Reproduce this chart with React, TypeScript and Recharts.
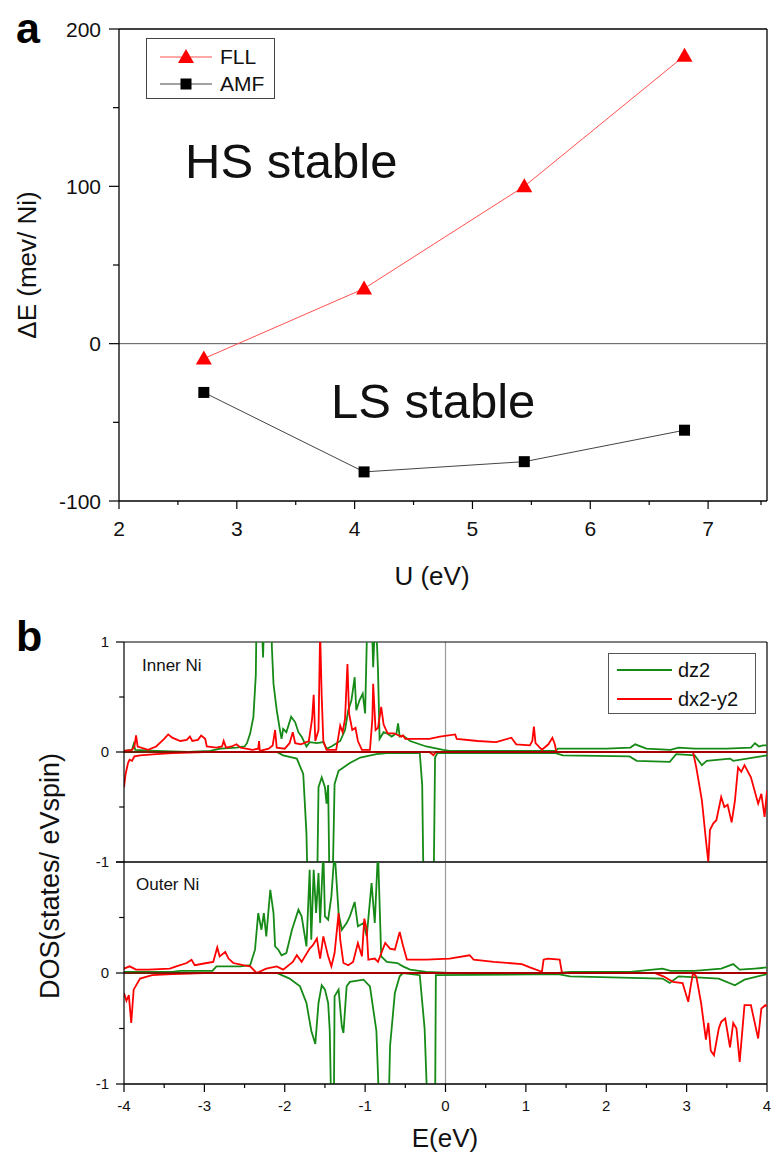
import React from "react";
import { LineChart, Line, XAxis, YAxis, ReferenceLine } from "recharts";

const FONT = '"Liberation Sans", Arial, Helvetica, sans-serif';
const GREEN = "#168a16";
const RED = "#ff0000";

// ---- panel a: energy difference vs U ----
const uValues = [2.72, 4.08, 5.44, 6.8];
const fllValues = [-9.5, 35, 100, 183];
const amfValues = [-31, -81.5, -75, -55];
const uTicks = [2, 2.5, 3, 3.5, 4, 4.5, 5, 5.5, 6, 6.5, 7, 7.5];
const dETicks = [-100, -50, 0, 50, 100, 150, 200];

// ---- panel b: DOS, [E (eV), states/eV spin] ----
const eTicks = [-4, -3.5, -3, -2.5, -2, -1.5, -1, -0.5, 0, 0.5, 1, 1.5, 2, 2.5, 3, 3.5, 4];
const dosTicks = [-1, -0.5, 0, 0.5, 1];

const innerDz2Up = [
  [-4, 0.01], [-3.9, 0.02], [-3.88, 0.07], [-3.86, 0.02], [-3.6, 0.01], [-3.2, 0], [-2.93, 0.01],
  [-2.8, 0.03], [-2.6, 0.04], [-2.5, 0.05], [-2.47, 0.08], [-2.43, 0.17], [-2.39, 0.32], [-2.36, 0.7],
  [-2.35, 1.3], [-2.3, 1.5], [-2.27, 0.86], [-2.25, 1.4], [-2.17, 1.4], [-2.16, 0.95], [-2.14, 0.62],
  [-2.1, 0.38], [-2.06, 0.2], [-2.04, 0.12], [-2.02, 0.21], [-1.98, 0.18], [-1.92, 0.32], [-1.87, 0.27],
  [-1.83, 0.18], [-1.79, 0.14], [-1.73, 0.05], [-1.69, 0.09], [-1.6, 0.08], [-1.52, 0.09], [-1.48, 0.03],
  [-1.42, 0.05], [-1.31, 0.1], [-1.25, 0.2], [-1.21, 0.38], [-1.17, 0.47], [-1.13, 0.68], [-1.11, 0.38],
  [-1.07, 0.47], [-1.03, 0.53], [-1.0, 0.35], [-0.97, 1.3], [-0.92, 1.3], [-0.9, 0.77], [-0.87, 1.3],
  [-0.84, 0.75], [-0.82, 0.12], [-0.77, 0.18], [-0.73, 0.17], [-0.67, 0.14], [-0.61, 0.17], [-0.59, 0.26],
  [-0.57, 0.14], [-0.53, 0.15], [-0.44, 0.1], [-0.24, 0.05], [-0.03, 0.02], [0.05, 0.01], [1.37, 0.01],
  [1.4, 0.03], [2.0, 0.03], [2.3, 0.04], [2.36, 0.07], [2.5, 0.03], [2.8, 0.02], [2.9, 0.04], [3.1, 0.03],
  [3.5, 0.03], [3.8, 0.04], [3.85, 0.08], [3.9, 0.05], [3.95, 0.06], [4, 0.06],
];
const innerDz2Dn = [
  [-4, 0], [-2.1, 0], [-2.02, -0.03], [-1.85, -0.06], [-1.77, -0.2], [-1.73, -0.74], [-1.71, -1.4],
  [-1.6, -1.4], [-1.58, -0.32], [-1.54, -0.23], [-1.5, -0.32], [-1.48, -0.47], [-1.46, -0.3], [-1.44, -1.4],
  [-1.41, -1.4], [-1.38, -0.29], [-1.33, -0.17], [-1.27, -0.14], [-1.19, -0.1], [-1.06, -0.05],
  [-0.86, -0.02], [-0.73, -0.01], [-0.32, -0.01], [-0.29, -0.3], [-0.27, -1.4], [-0.15, -1.4],
  [-0.13, -0.05], [-0.1, -0.01], [1.37, -0.01], [1.46, -0.03], [2.29, -0.04], [2.38, -0.08], [2.79, -0.09],
  [2.87, -0.02], [3.1, -0.03], [3.19, -0.12], [3.25, -0.08], [3.54, -0.06], [3.58, -0.08], [4, -0.03],
];
const innerDx2Up = [
  [-4, 0.01], [-3.9, 0.02], [-3.87, 0.05], [-3.85, 0.15], [-3.83, 0.05], [-3.7, 0.02], [-3.6, 0.05],
  [-3.5, 0.12], [-3.45, 0.16], [-3.4, 0.13], [-3.3, 0.1], [-3.22, 0.11], [-3.18, 0.14], [-3.15, 0.1],
  [-3.08, 0.11], [-3.04, 0.15], [-2.99, 0.12], [-2.97, 0.05], [-2.85, 0.04], [-2.78, 0.05], [-2.76, 0.1],
  [-2.73, 0.04], [-2.66, 0.05], [-2.6, 0.07], [-2.55, 0.04], [-2.4, 0.02], [-2.33, 0.03], [-2.32, 0.1],
  [-2.31, 0.01], [-2.2, 0.03], [-2.15, 0.06], [-2.12, 0.2], [-2.1, 0.04], [-2.0, 0.03], [-1.94, 0.08],
  [-1.9, 0.18], [-1.87, 0.08], [-1.8, 0.07], [-1.7, 0.1], [-1.66, 0.3], [-1.64, 0.52], [-1.62, 0.1],
  [-1.58, 0.2], [-1.56, 1.1], [-1.54, 0.5], [-1.52, 0.1], [-1.48, 0.02], [-1.36, 0.02], [-1.31, 0.24],
  [-1.28, 0.18], [-1.25, 0.3], [-1.22, 0.8], [-1.2, 0.35], [-1.16, 0.2], [-1.12, 0.22], [-1.09, 0.1],
  [-1.04, 0.02], [-0.94, 0.02], [-0.91, 0.3], [-0.9, 0.62], [-0.87, 0.2], [-0.84, 0.22], [-0.8, 0.41],
  [-0.77, 0.25], [-0.72, 0.17], [-0.64, 0.17], [-0.55, 0.14], [-0.53, 0.15], [-0.5, 0.12], [-0.35, 0.12],
  [-0.2, 0.12], [-0.07, 0.14], [0.12, 0.16], [0.14, 0.12], [0.4, 0.1], [0.63, 0.09], [0.82, 0.13],
  [0.88, 0.07], [1.05, 0.06], [1.08, 0.1], [1.1, 0.23], [1.12, 0.08], [1.2, 0.02], [1.28, 0.07],
  [1.33, 0.13], [1.36, 0.07], [1.38, 0], [4, 0],
];
const innerDx2Dn = [
  [-4, -0.32], [-3.98, -0.2], [-3.95, -0.1], [-3.93, -0.07], [-3.9, -0.08], [-3.87, -0.04], [-3.8, -0.03],
  [-3.6, -0.02], [-3.4, -0.01], [-3.0, 0], [-0.2, 0], [-0.15, -0.03], [-0.12, 0], [3.08, 0], [3.12, -0.14],
  [3.19, -0.44], [3.24, -0.8], [3.27, -1.0], [3.29, -0.71], [3.33, -0.65], [3.37, -0.62], [3.43, -0.41],
  [3.47, -0.5], [3.51, -0.48], [3.56, -0.64], [3.6, -0.45], [3.64, -0.14], [3.68, -0.18], [3.72, -0.12],
  [3.8, -0.23], [3.89, -0.47], [3.93, -0.38], [3.97, -0.59], [4, -0.35],
];

const outerDz2Up = [
  [-4, 0.01], [-3.4, 0.01], [-3.3, 0.02], [-2.9, 0.02], [-2.85, 0.06], [-2.55, 0.06], [-2.43, 0.07],
  [-2.37, 0.21], [-2.33, 0.54], [-2.29, 0.39], [-2.26, 0.54], [-2.23, 0.33], [-2.18, 0.75], [-2.14, 0.54],
  [-2.12, 0.24], [-2.08, 0.21], [-2.04, 0.16], [-1.98, 0.18], [-1.91, 0.39], [-1.83, 0.57], [-1.79, 0.51],
  [-1.73, 0.24], [-1.69, 0.93], [-1.67, 0.3], [-1.64, 0.93], [-1.61, 0.54], [-1.58, 0.9], [-1.56, 0.45],
  [-1.52, 1.1], [-1.5, 0.51], [-1.46, 0.48], [-1.42, 0.69], [-1.38, 1.1], [-1.33, 0.54], [-1.29, 0.39],
  [-1.23, 0.45], [-1.19, 0.51], [-1.13, 0.64], [-1.09, 0.42], [-1.02, 0.45], [-0.98, 0.33], [-0.92, 0.81],
  [-0.88, 0.45], [-0.84, 1.1], [-0.8, 0.15], [-0.73, 0.1], [-0.6, 0.09], [-0.53, 0.06], [-0.44, 0.03],
  [-0.24, 0.01], [0.05, 0], [1.4, 0], [1.55, 0.01], [2.3, 0.01], [2.7, 0.04], [2.8, 0.02], [3.1, 0.02],
  [3.43, 0.04], [3.58, 0.08], [3.66, 0.03], [3.85, 0.04], [4, 0.05],
];
const outerDz2Dn = [
  [-4, 0], [-2.1, 0], [-1.94, -0.05], [-1.81, -0.12], [-1.73, -0.27], [-1.67, -0.52], [-1.62, -0.64],
  [-1.58, -0.27], [-1.54, -0.11], [-1.5, -0.15], [-1.46, -0.27], [-1.44, -0.52], [-1.42, -1.3],
  [-1.39, -1.3], [-1.38, -0.21], [-1.33, -0.15], [-1.29, -0.48], [-1.27, -0.54], [-1.23, -0.12],
  [-1.19, -0.08], [-1.02, -0.06], [-0.94, -0.12], [-0.86, -0.52], [-0.82, -1.3], [-0.71, -1.3],
  [-0.69, -0.66], [-0.63, -0.18], [-0.57, -0.03], [-0.53, 0], [-0.32, -0.02], [-0.26, -0.5], [-0.22, -1.3],
  [-0.13, -1.3], [-0.12, -0.02], [1.4, -0.01], [1.55, -0.03], [2.7, -0.05], [2.79, -0.09], [2.9, -0.03],
  [3.4, -0.05], [3.6, -0.11], [3.72, -0.06], [4, -0.01],
];
const outerDx2Up = [
  [-4, 0.04], [-3.93, 0.06], [-3.85, 0.03], [-3.7, 0.03], [-3.43, 0.04], [-3.35, 0.06], [-3.22, 0.09],
  [-3.16, 0.12], [-3.12, 0.07], [-2.97, 0.09], [-2.89, 0.1], [-2.84, 0.23], [-2.81, 0.15], [-2.74, 0.19],
  [-2.7, 0.13], [-2.64, 0.09], [-2.52, 0.07], [-2.43, 0.06], [-2.35, 0], [-2.23, 0.04], [-2.1, 0.06],
  [-2.02, 0.03], [-1.9, 0.1], [-1.85, 0.16], [-1.79, 0.1], [-1.69, 0.22], [-1.65, 0.25], [-1.6, 0.31],
  [-1.56, 0.13], [-1.52, 0.33], [-1.46, 0.15], [-1.42, 0.06], [-1.38, 0.18], [-1.33, 0.54], [-1.31, 0.3],
  [-1.27, 0.09], [-1.21, 0.07], [-1.15, 0.1], [-1.09, 0.27], [-1.04, 0.15], [-1.01, 0.49], [-0.98, 0.39],
  [-0.96, 0.12], [-0.88, 0.13], [-0.84, 0.1], [-0.75, 0.27], [-0.69, 0.22], [-0.63, 0.21], [-0.57, 0.37],
  [-0.53, 0.25], [-0.48, 0.12], [-0.24, 0.12], [0.05, 0.13], [0.3, 0.16], [0.35, 0.12], [0.6, 0.1],
  [0.95, 0.08], [1.05, 0.05], [1.2, 0.01], [1.22, 0.12], [1.27, 0.13], [1.42, 0.12], [1.45, 0], [4, 0],
];
const outerDx2Dn = [
  [-4, -0.18], [-3.97, -0.25], [-3.94, -0.2], [-3.91, -0.45], [-3.88, -0.15], [-3.8, -0.05],
  [-3.65, -0.02], [-3.4, -0.01], [-3.0, 0], [2.6, 0], [2.71, -0.03], [2.83, -0.08], [2.95, -0.09],
  [3.02, -0.26], [3.05, -0.12], [3.08, 0], [3.12, -0.03], [3.18, -0.27], [3.24, -0.6], [3.27, -0.45],
  [3.3, -0.7], [3.34, -0.74], [3.4, -0.5], [3.43, -0.44], [3.48, -0.41], [3.54, -0.67], [3.58, -0.45],
  [3.62, -0.5], [3.66, -0.8], [3.72, -0.29], [3.8, -0.29], [3.89, -0.59], [3.93, -0.32], [3.98, -0.29],
  [4, -0.3],
];

const pts = (arr: number[][]) => arr.map(([e, v]) => ({ e, v }));

// ticks drawn by hand so minor ticks can be shorter (tickSize/tickMargin are 0)
function BottomTick(props: any) {
  const { x, y, payload, fs, major, off } = props;
  const v = payload.value;
  const isMajor = major(v);
  return (
    <g>
      <line x1={x} y1={y} x2={x} y2={y + (isMajor ? 8 : 4)} stroke="#000" strokeWidth={1.2} />
      {isMajor && (
        <text x={x} y={y + fs + off} textAnchor="middle" fontSize={fs} fontFamily={FONT} fill="#111">
          {v}
        </text>
      )}
    </g>
  );
}

function LeftTick(props: any) {
  const { x, y, payload, fs, major, skip, gap, len } = props;
  const v = payload.value;
  const isMajor = major(v);
  return (
    <g>
      <line x1={x} y1={y} x2={x - (isMajor ? len : len * 0.6)} y2={y} stroke="#000" strokeWidth={1.2} />
      {isMajor && v !== skip && (
        <text x={x - gap} y={y + fs * 0.36} textAnchor="end" fontSize={fs} fontFamily={FONT} fill="#111">
          {v}
        </text>
      )}
    </g>
  );
}

const triangle = (p: any) => (
  <path key={`t${p.index}`} d={`M${p.cx},${p.cy - 8} L${p.cx + 8},${p.cy + 6} L${p.cx - 8},${p.cy + 6} Z`} fill={RED} />
);
const square = (p: any) => (
  <rect key={`s${p.index}`} x={p.cx - 5.5} y={p.cy - 5.5} width={11} height={11} fill="#000" />
);

function DosPanel({ up1, dn1, up2, dn2, bottom }: any) {
  const isInt = (v: number) => Number.isInteger(v);
  return (
    <LineChart
      width={771}
      height={bottom ? 306 : 262}
      margin={bottom ? { top: 10, right: 4, bottom: 44, left: 0 } : { top: 22, right: 4, bottom: 20, left: 0 }}
    >
      <XAxis
        type="number"
        dataKey="e"
        domain={[-4, 4]}
        ticks={eTicks}
        allowDataOverflow
        hide={!bottom}
        height={30}
        tickSize={0}
        tickMargin={0}
        tickLine={false}
        axisLine={{ stroke: "#000", strokeWidth: 1.2 }}
        tick={(p: any) => <BottomTick {...p} fs={15} off={12} major={isInt} />}
      />
      <YAxis
        type="number"
        dataKey="v"
        domain={[-1, 1]}
        ticks={dosTicks}
        allowDataOverflow
        width={124}
        tickSize={0}
        tickMargin={0}
        tickLine={false}
        axisLine={{ stroke: "#000", strokeWidth: 1.2 }}
        tick={(p: any) => <LeftTick {...p} fs={15} gap={15} len={8} major={isInt} skip={bottom ? 1 : null} />}
      />
      <ReferenceLine x={0} stroke="#9a9a9a" strokeWidth={1.2} />
      <ReferenceLine y={1} stroke="#000" strokeWidth={1.2} />
      <ReferenceLine y={-1} stroke="#000" strokeWidth={1.2} />
      <ReferenceLine x={4} stroke="#000" strokeWidth={1.2} />
      <Line data={pts(up1)} dataKey="v" stroke={GREEN} strokeWidth={1.8} dot={false} isAnimationActive={false} />
      <Line data={pts(dn1)} dataKey="v" stroke={GREEN} strokeWidth={1.8} dot={false} isAnimationActive={false} />
      <Line data={pts(up2)} dataKey="v" stroke={RED} strokeWidth={1.8} dot={false} isAnimationActive={false} />
      <Line data={pts(dn2)} dataKey="v" stroke={RED} strokeWidth={1.8} dot={false} isAnimationActive={false} />
      <ReferenceLine y={0} stroke="#8b0000" strokeWidth={1.4} />
    </LineChart>
  );
}

export default function App() {
  const aData = uValues.map((u, i) => ({ u, fll: fllValues[i], amf: amfValues[i] }));
  return (
    <div style={{ position: "absolute", left: 0, top: 0, width: 771, height: 1158, background: "#fff" }}>
      <div style={{ position: "absolute", left: 0, top: 0 }}>
        <LineChart width={771} height={560} data={aData} margin={{ top: 29, right: 4, bottom: 29, left: 0 }}>
          <XAxis
            type="number"
            dataKey="u"
            domain={[2, 7.5]}
            ticks={uTicks}
            height={30}
            tickSize={0}
            tickMargin={0}
            tickLine={false}
            axisLine={{ stroke: "#000", strokeWidth: 1.3 }}
            tick={(p: any) => <BottomTick {...p} fs={21} off={14} major={(v: number) => Number.isInteger(v)} />}
          />
          <YAxis
            type="number"
            domain={[-100, 200]}
            ticks={dETicks}
            width={119}
            tickSize={0}
            tickMargin={0}
            tickLine={false}
            axisLine={{ stroke: "#000", strokeWidth: 1.3 }}
            tick={(p: any) => (
              <LeftTick {...p} fs={21} gap={18} len={10} major={(v: number) => v % 100 === 0} skip={null} />
            )}
          />
          <ReferenceLine y={200} stroke="#000" strokeWidth={1.3} />
          <ReferenceLine x={7.5} stroke="#000" strokeWidth={1.3} />
          <ReferenceLine y={0} stroke="#555" strokeWidth={1} />
          <Line dataKey="fll" stroke="#ff5050" strokeWidth={1} dot={triangle} isAnimationActive={false} />
          <Line dataKey="amf" stroke="#444" strokeWidth={1} dot={square} isAnimationActive={false} />
        </LineChart>
      </div>

      <div style={{ position: "absolute", left: 0, top: 620 }}>
        <DosPanel up1={innerDz2Up} dn1={innerDz2Dn} up2={innerDx2Up} dn2={innerDx2Dn} bottom={false} />
      </div>
      <div style={{ position: "absolute", left: 0, top: 852 }}>
        <DosPanel up1={outerDz2Up} dn1={outerDz2Dn} up2={outerDx2Up} dn2={outerDx2Dn} bottom={true} />
      </div>

      {/* labels, annotations and legends */}
      <svg width={771} height={1158} style={{ position: "absolute", left: 0, top: 0, pointerEvents: "none" }} fontFamily={FONT}>
        <text x={16} y={43} fontSize={43} fontWeight="bold" fill="#000">a</text>
        <text x={16} y={651} fontSize={43} fontWeight="bold" fill="#000">b</text>

        <text x={185} y={178} fontSize={49} fill="#111">HS stable</text>
        <text x={331} y={418} fontSize={49} fill="#111">LS stable</text>

        <text transform="translate(36,265) rotate(-90)" textAnchor="middle" fontSize={26} fill="#111">ΔE (mev/ Ni)</text>
        <text x={432} y={585} textAnchor="middle" fontSize={26} fill="#111">U (eV)</text>

        <rect x={146.5} y={38.5} width={128} height={60} fill="#fff" stroke="#444" strokeWidth={1} />
        <line x1={160} y1={57} x2={212} y2={57} stroke="#ff5050" strokeWidth={1} />
        <path d="M186,49 L194,63 L178,63 Z" fill={RED} />
        <text x={220} y={64} fontSize={21} fill="#111">FLL</text>
        <line x1={160} y1={84} x2={212} y2={84} stroke="#444" strokeWidth={1} />
        <rect x={180.5} y={78.5} width={11} height={11} fill="#000" />
        <text x={220} y={91} fontSize={21} fill="#111">AMF</text>

        <text x={142} y={671} fontSize={17} fill="#111">Inner Ni</text>
        <text x={136} y={890} fontSize={17} fill="#111">Outer Ni</text>

        <rect x={608.5} y={653.5} width={147} height={60} fill="#fff" stroke="#555" strokeWidth={1} />
        <line x1={617} y1={670} x2={672} y2={670} stroke={GREEN} strokeWidth={1.8} />
        <text x={678} y={677} fontSize={20} fill="#111">dz2</text>
        <line x1={617} y1={699} x2={672} y2={699} stroke={RED} strokeWidth={1.8} />
        <text x={678} y={706} fontSize={20} fill="#111">dx2-y2</text>

        <text transform="translate(59,876) rotate(-90)" textAnchor="middle" fontSize={27} fill="#111">DOS(states/ eVspin)</text>
        <text x={445} y={1147} textAnchor="middle" fontSize={26} fill="#111">E(eV)</text>
      </svg>
    </div>
  );
}
